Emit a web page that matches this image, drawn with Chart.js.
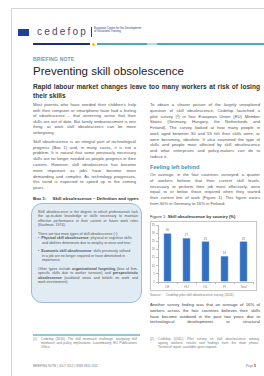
<!DOCTYPE html>
<html>
<head>
<meta charset="utf-8">
<script src="https://cdn.jsdelivr.net/npm/chart.js@4/dist/chart.umd.min.js"></script>
<style>
  html, body { margin: 0; padding: 0; background: #fff; width: 264px; height: 376px; overflow: hidden; }
  body { font-family: "Liberation Sans", Arial, sans-serif; position: relative; }
  .abs { position: absolute; }
  .page { left: 11px; top: 8px; width: 270px; height: 380px; border: 1px solid #d4d4d4; box-sizing: border-box; }
  .ln { white-space: nowrap; overflow: visible; }
  .j { text-align: justify; text-align-last: justify; white-space: normal; }
  .body { color: #555; font-size: 4.2px; }
  .box { left: 31px; top: 203px; width: 111px; height: 100px; background: #e1ebf4; border: 1px solid #9dbad6; border-radius: 11px; box-sizing: border-box; }
  .chartbox { left: 150px; top: 221px; width: 107px; height: 70px; border: 1px solid #c9c9c9; box-sizing: border-box; background: #fff; box-shadow: 0 0 1px #ddd; }
</style>
</head>
<body>
<div class="abs page"></div>

<!-- header -->
<div class="abs" style="left:18px;top:29px;width:11px;height:7px;background:#1f3f99;"></div>
<div class="abs" style="left:37px;top:26px;font-size:10px;line-height:11px;letter-spacing:2.2px;color:#3a4a80;">cedefop</div>
<div class="abs" style="left:91px;top:27px;width:1px;height:10px;background:#2d3f78;"></div>
<div class="abs" style="left:94px;top:27px;font-size:2.8px;line-height:3.3px;color:#2d3f78;">European Centre for the Development<br>of Vocational Training</div>
<div class="abs" style="left:33px;top:43px;width:57px;height:2px;background:#1f3070;"></div>
<div class="abs" style="left:92px;top:42.5px;width:3px;height:3px;border-radius:50%;background:#f2c400;"></div>
<div class="abs" style="left:97px;top:43px;width:50px;height:2px;background:#4ea6b8;"></div>
<div class="abs" style="left:147px;top:43px;width:10px;height:2px;background:#b5dbe5;"></div>
<div class="abs" style="left:157px;top:43px;width:107px;height:2px;background:#4ea6b8;"></div>

<div class="abs" style="left:33px;top:57px;font-size:5px;line-height:5px;font-weight:bold;color:#5aa2ba;letter-spacing:0.15px;">BRIEFING NOTE</div>
<div class="abs" style="left:33px;top:64.5px;font-size:11.5px;line-height:12px;color:#222;">Preventing skill obsolescence</div>
<div class="abs" id="sub" style="left:33px;top:81.5px;width:227px;font-size:6.6px;line-height:9px;font-weight:bold;color:#333;"></div>

<!-- left column -->
<div class="abs body" id="p1" style="left:33px;top:102.2px;width:103px;line-height:5.5px;"></div>
<div class="abs body" id="p2" style="left:33px;top:138.8px;width:103px;line-height:5.8px;"></div>
<div class="abs" style="left:33px;top:195.5px;font-size:4.4px;line-height:5px;font-weight:bold;color:#333;">Box 1:&nbsp;&nbsp;&nbsp;&nbsp;&nbsp;Skill obsolescence – Definition and types</div>
<div class="abs box"></div>
<div class="abs body" id="bx" style="left:38px;top:209.8px;width:100px;font-size:3.6px;line-height:4.4px;"></div>

<!-- right column -->
<div class="abs body" id="p3" style="left:150px;top:102.1px;width:110px;line-height:5.74px;"></div>
<div class="abs" style="left:150px;top:164px;font-size:5.6px;line-height:6px;font-weight:bold;color:#3d93b3;">Feeling left behind</div>
<div class="abs body" id="p4" style="left:150px;top:172.2px;width:110px;line-height:5.7px;"></div>
<div class="abs" style="left:150px;top:213.5px;font-size:4.2px;line-height:5px;color:#333;">Figure 1: <b>Skill obsolescence by country (%)</b></div>
<div class="abs chartbox"><div style="position:absolute;left:0;top:0;width:105px;height:68px;"><canvas id="chart"></canvas></div></div>
<div class="abs" style="left:150px;top:292.7px;font-size:3.3px;line-height:4px;color:#777;">Source:&nbsp;&nbsp;&nbsp;&nbsp;&nbsp;Cedefop pilot skill obsolescence survey (2011).</div>
<div class="abs body" id="p5" style="left:150px;top:302.2px;width:110px;line-height:5.7px;color:#444;"></div>

<!-- footnotes -->
<div class="abs" style="left:33px;top:334px;width:107px;height:1.5px;background:#8fcad2;"></div>
<div class="abs" style="left:33px;top:337px;font-size:3.3px;line-height:4px;color:#777;">(1)</div>
<div class="abs body" id="f1" style="left:41px;top:337px;width:96px;font-size:3.3px;line-height:4px;color:#777;"></div>
<div class="abs" style="left:150px;top:337px;font-size:3.3px;line-height:4px;color:#777;">(2)</div>
<div class="abs body" id="f2" style="left:158px;top:337px;width:101px;font-size:3.3px;line-height:4px;color:#777;"></div>
<div class="abs" style="left:33px;top:364.5px;font-size:3px;line-height:3px;color:#777;">BRIEFING NOTE | JULY 2012 | ISSN 1831-2411</div>
<div class="abs" style="left:246px;top:363.5px;font-size:3px;line-height:4px;color:#777;">Page <b style="font-size:4.2px;color:#333;">1</b></div>

<script>
// chart data
const countries = ["DE", "HU", "NL", "FI", "Total"];
const obsolescencePct = [30, 27, 25, 16, 25];
const yTicks = [0, 5, 10, 15, 20, 25, 30, 35];

// page text, one entry per printed line; trailing "|" = last line (not stretched)
function para(id, lines) {
  const el = document.getElementById(id);
  el.innerHTML = lines.map((l) => {
    const last = l.endsWith("|");
    const t = last ? l.slice(0, -1) : l;
    return `<div class="ln ${last ? "" : "j"}">${t}</div>`;
  }).join("");
}

para("sub", [
  "Rapid labour market changes leave too many workers at risk of losing",
  "their skills|",
]);
para("p1", [
  "Most parents who have needed their children's help",
  "with their computer or smartphone have had a feeling",
  "of obsolescence – that unnerving sense that their",
  "skills are out of date. But family embarrassment is one",
  "thing; at work skill obsolescence can be more",
  "unforgiving.|",
]);
para("p2", [
  "Skill obsolescence is an integral part of technological",
  "progress (Box 1) and, in many cases, it is not a",
  "problem. It is natural that some previously necessary",
  "skills are no longer needed as people progress in their",
  "careers. However, skill obsolescence has become",
  "more important as jobs have become more",
  "demanding and complex. As technology progresses,",
  "this trend is expected to speed up in the coming",
  "years.|",
]);
para("bx", [
  "Skill obsolescence is the degree to which professionals lack",
  "the up-to-date knowledge or skills necessary to maintain",
  "effective performance in their current or future work roles",
  "(Kaufman, 1974).|",
  "&nbsp;|",
  "There are two main types of skill obsolescence (¹):|",
  "&bull;&nbsp;&nbsp;<b>Physical skill obsolescence</b>: physical or cognitive skills|",
  "&nbsp;&nbsp;&nbsp;&nbsp;and abilities deteriorate due to atrophy or wear and tear;|",
  "&nbsp;|",
  "&bull;&nbsp;&nbsp;<b>Economic skill obsolescence</b>: skills previously utilised|",
  "&nbsp;&nbsp;&nbsp;&nbsp;in a job are no longer required or have diminished in|",
  "&nbsp;&nbsp;&nbsp;&nbsp;importance.|",
  "&nbsp;|",
  "Other types include <b>organisational forgetting</b> (loss of firm-",
  "specific skills due to worker turnover) and <b>perspectivistic</b>",
  "<b>obsolescence</b> (outdated views and beliefs on work and",
  "work environment).|",
]);
para("p3", [
  "To obtain a clearer picture of the largely unexplored",
  "question of skill obsolescence, Cedefop launched a",
  "pilot survey (²) in four European Union (EU) Member",
  "States (Germany, Hungary, the Netherlands and",
  "Finland). The survey looked at how many people in",
  "work aged between 30 and 55 felt their skills were, or",
  "were becoming, obsolete. It also examined the type of",
  "skills and people most affected by skill obsolescence",
  "and what enterprises and policy-makers can do to",
  "reduce it.|",
]);
para("p4", [
  "On average, in the four countries surveyed, a quarter",
  "of workers believe that their current skill levels,",
  "necessary to perform their job most effectively, were",
  "equal to or below those required when they started",
  "their current line of work (Figure 1). This figure varies",
  "from 30% in Germany to 16% in Finland.|",
]);
para("p5", [
  "Another survey finding was that an average of 16% of",
  "workers across the four countries believes their skills",
  "have become outdated in the past two years due to",
  "technological &nbsp;&nbsp;&nbsp;&nbsp;developments &nbsp;&nbsp;&nbsp;&nbsp;or &nbsp;&nbsp;&nbsp;&nbsp;structural",
]);
para("f1", [
  "Cedefop (2010). The skill mismatch challenge: analysing skill",
  "mismatch and policy implications. Luxembourg: EU Publications",
  "Office.|",
]);
para("f2", [
  "Cedefop (2011). Pilot survey on skill obsolescence among",
  "ageing workers: results and findings from the main phase.",
  "Technical report, available upon request.|",
]);

// value labels above bars
const barLabels = {
  id: "barLabels",
  afterDatasetsDraw(chart) {
    const ctx = chart.ctx;
    const meta = chart.getDatasetMeta(0);
    ctx.save();
    ctx.font = "3px 'Liberation Sans', Arial";
    ctx.fillStyle = "#777";
    ctx.textAlign = "center";
    ctx.textBaseline = "bottom";
    meta.data.forEach((bar, i) => {
      ctx.fillText(chart.data.datasets[0].data[i], bar.x, bar.y - 1);
    });
    ctx.restore();
  },
};

const tickFont = { family: "Liberation Sans", size: 3 };

new Chart(document.getElementById("chart"), {
  type: "bar",
  data: {
    labels: countries,
    datasets: [{
      data: obsolescencePct,
      backgroundColor: "#3270c4",
      borderColor: "#6f9ad6",
      borderWidth: 0.6,
      barPercentage: 0.42,
      categoryPercentage: 1,
    }],
  },
  options: {
    responsive: true,
    maintainAspectRatio: false,
    animation: false,
    events: [],
    layout: { padding: { top: 3, right: 3, left: 0, bottom: 0 } },
    plugins: { legend: { display: false }, tooltip: { enabled: false } },
    scales: {
      y: {
        min: yTicks[0],
        max: yTicks[yTicks.length - 1],
        afterBuildTicks: (s) => { s.ticks = yTicks.map((v) => ({ value: v })); },
        afterFit: (s) => { s.width = 7; },
        ticks: { font: tickFont, color: "#888", padding: 1 },
        grid: { drawOnChartArea: false, tickLength: 2, color: "#bbb" },
        border: { color: "#bbb" },
      },
      x: {
        afterFit: (s) => { s.height = 8; },
        ticks: { font: tickFont, color: "#888", padding: 1 },
        grid: { drawOnChartArea: false, tickLength: 2, color: "#bbb" },
        border: { color: "#bbb" },
      },
    },
  },
  plugins: [barLabels],
});
</script>
</body>
</html>
